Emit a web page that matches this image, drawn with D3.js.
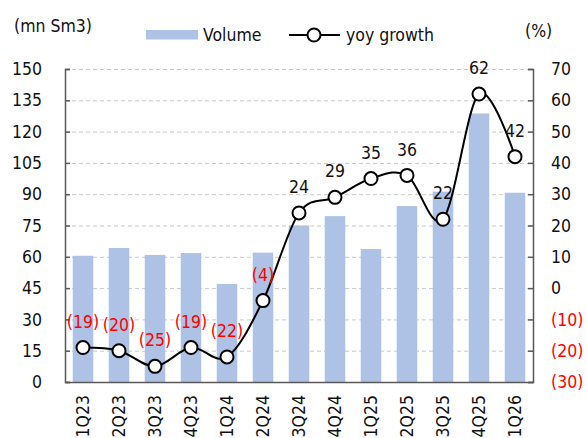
<!DOCTYPE html>
<html><head><meta charset="utf-8">
<script src="https://cdn.jsdelivr.net/npm/d3@7"></script>
<style>body{margin:0;background:#fff}svg{display:block}text{font-family:"DejaVu Sans Condensed","DejaVu Sans",sans-serif}</style>
</head><body><svg id="c" width="587" height="438"></svg>
<script>
const categories = ["1Q23","2Q23","3Q23","4Q23","1Q24","2Q24","3Q24","4Q24","1Q25","2Q25","3Q25","4Q25","1Q26"];
const volume = [60.5,64.2,60.9,61.8,47,62,75,79.5,63.7,84.3,91.2,128.7,90.7];
const yoyGrowth = [-19,-20,-25,-19,-22,-4,24,29,35,36,22,62,42];
const leftTicks = [0,15,30,45,60,75,90,105,120,135,150];
const rightTicks = [-30,-20,-10,0,10,20,30,40,50,60,70];

const FONT = "DejaVu Sans Condensed, DejaVu Sans, sans-serif";
const FS = 17.5;
const svg = d3.select("#c");
const L = 65, R = 533, T = 69, B = 382;
const x = d3.scaleBand().domain(categories).range([L,R]).paddingInner(0.43).paddingOuter(0.215);
const yL = d3.scaleLinear().domain([0,150]).range([B,T]);
const yR = d3.scaleLinear().domain([-30,70]).range([B,T]);
const axisCol = "#595959";
const fmt = v => v < 0 ? "(" + Math.abs(v) + ")" : String(v);

// gridlines
svg.append("g").selectAll("line").data(leftTicks.slice(1)).join("line")
  .attr("x1",L).attr("x2",R).attr("y1",d=>yL(d)+0.5).attr("y2",d=>yL(d)+0.5)
  .attr("stroke","#c9c9c9").attr("stroke-width",1).attr("stroke-dasharray","4,3");

// bars
svg.append("g").selectAll("rect").data(volume).join("rect")
  .attr("x",(d,i)=>x(categories[i])).attr("width",x.bandwidth())
  .attr("y",d=>yL(d)).attr("height",d=>B-yL(d))
  .attr("fill","#adc2e5");

// axes
const gl = svg.append("g").attr("transform",`translate(${L},0)`)
  .call(d3.axisLeft(yL).tickValues(leftTicks).tickSize(-5).tickPadding(23));
const gr = svg.append("g").attr("transform",`translate(${R},0)`)
  .call(d3.axisRight(yR).tickValues(rightTicks).tickSize(-5).tickPadding(18).tickFormat(fmt));
[gl,gr].forEach(g=>{
  g.select(".domain").attr("stroke",axisCol).attr("stroke-width",1.5);
  g.selectAll(".tick line").attr("stroke",axisCol).attr("stroke-width",1.5);
  g.selectAll(".tick text").attr("font-size",FS).attr("font-family",FONT).attr("fill","#111");
});
gr.selectAll(".tick text").attr("fill",d=>d<0?"#ff0000":"#111");

const gx = svg.append("g").attr("transform",`translate(0,${B})`)
  .call(d3.axisBottom(x).tickSize(0).tickPadding(0));
gx.select(".domain").attr("stroke",axisCol).attr("stroke-width",1.5);
gx.selectAll(".tick text").attr("font-size",FS).attr("font-family",FONT).attr("fill","#111")
  .attr("transform","rotate(-90)").attr("text-anchor","end").attr("dy","0.35em").attr("x",-13).attr("y",0);

// line
const cx = (d,i)=>x(categories[i])+x.bandwidth()/2;
const line = d3.line().x(cx).y(d=>yR(d)).curve(d3.curveCardinal.tension(0));
svg.append("path").datum(yoyGrowth).attr("d",line).attr("fill","none").attr("stroke","#000").attr("stroke-width",2);
svg.append("g").selectAll("circle").data(yoyGrowth).join("circle")
  .attr("cx",cx).attr("cy",d=>yR(d)).attr("r",6.5)
  .attr("fill","#fff").attr("stroke","#000").attr("stroke-width",2);
svg.append("g").selectAll("text").data(yoyGrowth).join("text")
  .attr("x",cx).attr("y",d=>yR(d)-26).attr("dy","0.35em").attr("text-anchor","middle")
  .attr("font-size",FS).attr("fill",d=>d<0?"#ff0000":"#111").text(fmt);

// unit labels
svg.append("text").attr("x",14).attr("y",26).attr("dy","0.35em").attr("font-size",FS).attr("fill","#111").text("(mn Sm3)");
svg.append("text").attr("x",525).attr("y",31).attr("dy","0.35em").attr("font-size",FS).attr("fill","#111").text("(%)");

// legend
svg.append("rect").attr("x",146).attr("y",30).attr("width",52).attr("height",9.5).attr("fill","#adc2e5");
svg.append("text").attr("x",203).attr("y",35).attr("dy","0.35em").attr("font-size",FS).attr("fill","#111").text("Volume");
svg.append("line").attr("x1",289).attr("x2",340).attr("y1",35).attr("y2",35).attr("stroke","#000").attr("stroke-width",2);
svg.append("circle").attr("cx",314).attr("cy",35).attr("r",6.5).attr("fill","#fff").attr("stroke","#000").attr("stroke-width",2);
svg.append("text").attr("x",346).attr("y",35).attr("dy","0.35em").attr("font-size",FS).attr("fill","#111").text("yoy growth");
</script></body></html>
